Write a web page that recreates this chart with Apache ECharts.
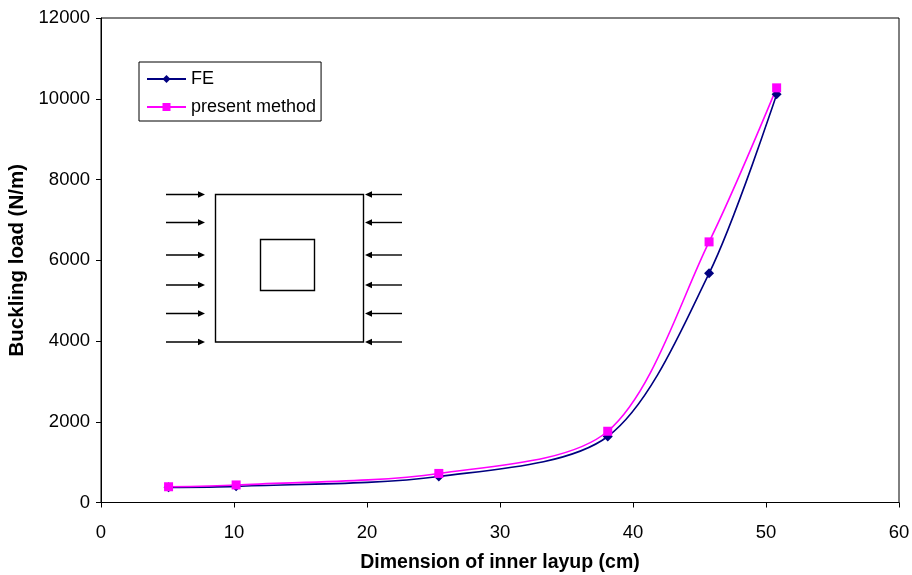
<!DOCTYPE html>
<html><head><meta charset="utf-8">
<script src="https://cdn.jsdelivr.net/npm/echarts@6/dist/echarts.min.js"></script>
<style>html,body{margin:0;padding:0;background:#fff}#c{width:912px;height:575px}</style>
</head><body><div id="c"></div>
<script>
const xValues = [5.08, 10.16, 25.4, 38.1, 45.72, 50.8];
const feValues = [375, 400, 645, 1635, 5675, 10110];
const presentValues = [390, 435, 720, 1765, 6455, 10270];
const xTicks = [0, 10, 20, 30, 40, 50, 60];
const yTicks = [0, 2000, 4000, 6000, 8000, 10000, 12000];

const font = 'Liberation Sans, Arial, sans-serif';
const chart = echarts.init(document.getElementById('c'), null, {renderer: 'canvas'});

function arrow(x1, x2, y) {
  const dir = x2 > x1 ? 1 : -1;
  return [
    {type: 'line', shape: {x1: x1, y1: y, x2: x2 - dir * 6, y2: y}, style: {stroke: '#000', lineWidth: 1.4}},
    {type: 'polygon', shape: {points: [[x2, y], [x2 - dir * 7, y - 3.3], [x2 - dir * 7, y + 3.3]]}, style: {fill: '#000'}}
  ];
}
const arrowRows = [194.5, 222.5, 255, 285, 313.5, 342];
let graphics = [
  {type: 'rect', shape: {x: 215.5, y: 194.5, width: 148, height: 147.5}, style: {fill: 'none', stroke: '#000', lineWidth: 1.4}},
  {type: 'rect', shape: {x: 260.5, y: 239.5, width: 54, height: 51}, style: {fill: 'none', stroke: '#000', lineWidth: 1.4}}
];
arrowRows.forEach(y => {
  graphics = graphics.concat(arrow(166, 205, y));
  graphics = graphics.concat(arrow(402, 365, y));
});

chart.setOption({
  animation: false,
  backgroundColor: '#fff',
  textStyle: {fontFamily: font},
  grid: {left: 101, right: 13, top: 18, bottom: 72.5, show: true, borderColor: '#000', borderWidth: 1, containLabel: false, outerBoundsMode: 'none'},
  legend: {
    left: 139, top: 62,
    orient: 'vertical', itemGap: 10,
    padding: [8, 5, 5, 7],
    borderColor: '#000', borderWidth: 1, backgroundColor: '#fff',
    itemWidth: 39, itemHeight: 10,
    textStyle: {fontFamily: font, fontSize: 18, lineHeight: 18, color: '#000'},
    data: ['FE', 'present method']
  },
  xAxis: {
    type: 'value', min: 0, max: 60, interval: 10,
    name: 'Dimension of inner layup (cm)', nameLocation: 'middle', nameGap: 50,
    nameTextStyle: {fontFamily: font, fontSize: 19.5, fontWeight: 'bold', color: '#000'},
    axisLine: {lineStyle: {color: '#000', width: 1}},
    axisTick: {show: true, length: 5, lineStyle: {color: '#000'}},
    axisLabel: {fontFamily: font, fontSize: 18.5, color: '#000', margin: 21, formatter: v => xTicks.includes(v) ? String(v) : ''},
    splitLine: {show: false}
  },
  yAxis: {
    type: 'value', min: 0, max: 12000, interval: 2000,
    name: 'Buckling load (N/m)', nameLocation: 'middle', nameGap: 67, nameRotate: 90,
    nameTextStyle: {fontFamily: font, fontSize: 20.5, fontWeight: 'bold', color: '#000'},
    axisLine: {show: true, lineStyle: {color: '#000', width: 1}},
    axisTick: {show: true, length: 5, lineStyle: {color: '#000'}},
    axisLabel: {fontFamily: font, fontSize: 18.5, color: '#000', margin: 11, formatter: v => yTicks.includes(v) ? String(v) : ''},
    splitLine: {show: false}
  },
  series: [
    {
      name: 'FE', type: 'line', smooth: 0.3,
      data: xValues.map((x, i) => [x, feValues[i]]),
      symbol: 'diamond', symbolSize: 10,
      itemStyle: {color: '#000080'},
      lineStyle: {color: '#000080', width: 1.6}
    },
    {
      name: 'present method', type: 'line', smooth: 0.3,
      data: xValues.map((x, i) => [x, presentValues[i]]),
      symbol: 'rect', symbolSize: 9,
      itemStyle: {color: '#FF00FF'},
      lineStyle: {color: '#FF00FF', width: 1.6}
    }
  ],
  graphic: graphics
});
</script></body></html>
